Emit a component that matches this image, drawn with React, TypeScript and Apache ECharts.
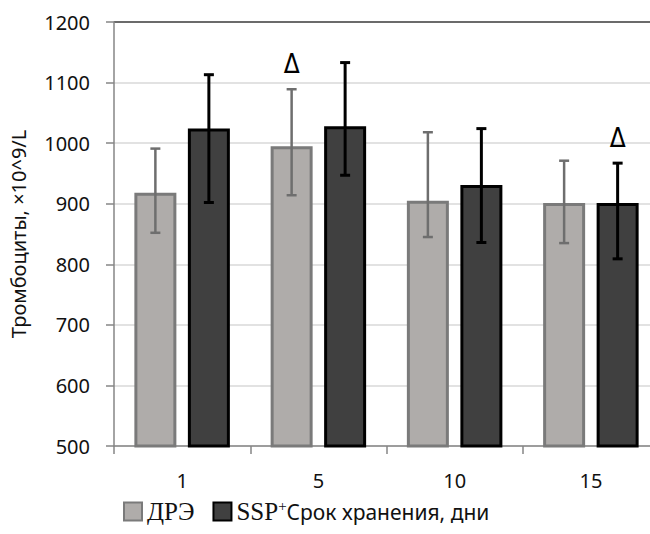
import React, { useEffect, useRef } from "react";
import * as echarts from "echarts";

const categories = ["1", "5", "10", "15"];
const dreValues = [918, 995, 905, 901];
const dreLow = [852, 914, 845, 835];
const dreHigh = [991, 1089, 1018, 971];
const dreMarks = [0, 1, 0, 0];
const sspValues = [1024, 1028, 931, 901];
const sspLow = [902, 947, 836, 809];
const sspHigh = [1113, 1133, 1024, 967];
const sspMarks = [0, 0, 0, 1];
const yMin = 500;
const yMax = 1200;
const yStep = 100;
const yTitle = "Тромбоциты, ×10^9/L";
const legendDre = "ДРЭ";
const legendSspA = "SSP";
const legendSspSup = "+";
const legendSspB = "Срок хранения, дни";
const markText = "Δ";

const SANS = '"Noto Sans", "Open Sans", sans-serif';
const SERIF = '"Liberation Serif", "DejaVu Serif", serif';
const BAR_W = 42;
const BAR_STEP = 53.5;

function errorSeries(
  name: string,
  low: number[],
  high: number[],
  marks: number[],
  offset: number,
  color: string,
  width: number
) {
  return {
    type: "custom",
    name: name + "-err",
    z: 5,
    data: low.map((l, i) => [i, l, high[i], marks[i]]),
    renderItem: (params: any, api: any) => {
      const cat = api.value(0);
      const pl = api.coord([cat, api.value(1)]);
      const ph = api.coord([cat, api.value(2)]);
      const x = pl[0] + offset;
      const cap = 5;
      const children: any[] = [
        { type: "line", shape: { x1: x, y1: pl[1], x2: x, y2: ph[1] }, style: { stroke: color, lineWidth: width } },
        { type: "line", shape: { x1: x - cap, y1: pl[1], x2: x + cap, y2: pl[1] }, style: { stroke: color, lineWidth: width } },
        { type: "line", shape: { x1: x - cap, y1: ph[1], x2: x + cap, y2: ph[1] }, style: { stroke: color, lineWidth: width } },
      ];
      if (api.value(3)) {
        children.push({
          type: "text",
          x: x,
          y: ph[1] - 25,
          style: {
            text: markText,
            align: "center",
            verticalAlign: "middle",
            fontSize: 26,
            fontFamily: '"Liberation Sans Narrow", "DejaVu Sans Condensed", sans-serif',
            fill: "#000",
          },
        });
      }
      return { type: "group", children };
    },
  };
}

export default function App() {
  const ref = useRef<HTMLDivElement>(null);
  useEffect(() => {
    if (!ref.current) return;
    const chart = echarts.init(ref.current, null, { renderer: "svg" });
    const nLines = (yMax - yMin) / yStep + 1;
    const gridColors: string[] = [];
    for (let i = 0; i < nLines; i++) gridColors.push(i === nLines - 1 ? "#3a3a3a" : "#d9d9d9");
    chart.setOption({
      animation: false,
      backgroundColor: "#fff",
      grid: { left: 114, right: -9, top: 22, bottom: 88, containLabel: false, outerBoundsMode: "none" },
      legend: {
        left: 118,
        top: 493,
        itemWidth: 18,
        itemHeight: 18,
        itemGap: 18,
        icon: "rect",
        data: ["dre", "ssp"],
        formatter: (n: string) =>
          n === "dre" ? `{serif|${legendDre}}` : `{serif|${legendSspA}}{sup|${legendSspSup}}{sans|${legendSspB}}`,
        textStyle: {
          rich: {
            serif: { fontFamily: SERIF, fontSize: 25, color: "#111" },
            sup: { fontFamily: SERIF, fontSize: 15, color: "#111", verticalAlign: "top", padding: [0, 0, 12, 0] },
            sans: { fontFamily: SANS, fontSize: 21, color: "#111" },
          },
        },
      },
      xAxis: {
        type: "category",
        data: categories,
        axisLine: { lineStyle: { color: "#868686", width: 1.5 } },
        axisTick: { show: true, length: 8, lineStyle: { color: "#868686", width: 1.5 } },
        axisLabel: { color: "#111", fontSize: 20, fontFamily: SANS, margin: 24 },
      },
      yAxis: {
        type: "value",
        min: yMin,
        max: yMax,
        interval: yStep,
        name: yTitle,
        nameLocation: "middle",
        nameGap: 86,
        nameRotate: 90,
        nameTextStyle: { color: "#111", fontSize: 20, fontFamily: SANS },
        axisLine: { show: true, lineStyle: { color: "#868686", width: 1.5 } },
        axisTick: { show: true, length: 8, lineStyle: { color: "#868686", width: 1.5 } },
        axisLabel: { color: "#111", fontSize: 20, fontFamily: SANS, margin: 24, formatter: (v: number) => String(v) },
        splitLine: { show: true, lineStyle: { color: gridColors, width: 1.5 } },
      },
      series: [
        {
          type: "bar",
          name: "dre",
          data: dreValues,
          barWidth: BAR_W,
          barGap: ((BAR_STEP - BAR_W) / BAR_W) * 100 + "%",
          itemStyle: { color: "#afacaa", borderColor: "#7a7a7a", borderWidth: 3 },
        },
        {
          type: "bar",
          name: "ssp",
          data: sspValues,
          barWidth: BAR_W,
          barGap: ((BAR_STEP - BAR_W) / BAR_W) * 100 + "%",
          itemStyle: { color: "#404040", borderColor: "#000", borderWidth: 3 },
        },
        errorSeries("dre", dreLow, dreHigh, dreMarks, -BAR_STEP / 2, "#6e6e6e", 2.5),
        errorSeries("ssp", sspLow, sspHigh, sspMarks, BAR_STEP / 2, "#000", 3),
      ],
    });
    return () => chart.dispose();
  }, []);
  return <div ref={ref} style={{ position: "absolute", left: 0, top: 0, width: 650, height: 534 }} />;
}
